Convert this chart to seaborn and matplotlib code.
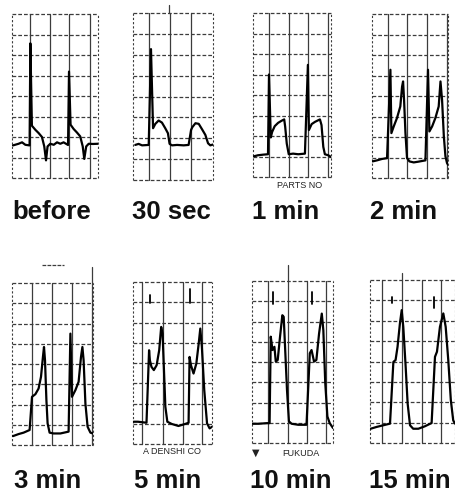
import matplotlib
matplotlib.use("Agg")
import matplotlib.pyplot as plt
from matplotlib import font_manager
import pandas as pd
import seaborn as sns

# ---------------- data (time and amplitude in grid divisions) ----------------
labels = ["before", "30 sec", "1 min", "2 min", "3 min", "5 min", "10 min", "15 min"]

before_t = [0.05, 0.34, 0.52, 0.69, 0.91, 0.95, 1.03, 1.21, 1.38, 1.55, 1.67, 1.76, 1.84, 1.98,
            2.16, 2.33, 2.50, 2.67, 2.90, 2.95, 3.03, 3.19, 3.36, 3.53, 3.66, 3.74, 3.84, 3.97,
            4.19, 4.45]
before_v = [1.59, 1.67, 1.74, 1.62, 1.59, 6.57, 2.55, 2.35, 2.19, 2.00, 1.54, 0.86, 1.54, 1.67,
            1.62, 1.74, 1.67, 1.74, 1.61, 5.19, 2.60, 2.39, 2.22, 2.03, 1.54, 0.93, 1.54, 1.67,
            1.66, 1.67]

sec30_t = [0.11, 0.27, 0.44, 0.76, 0.87, 0.97, 1.08, 1.24, 1.40, 1.56, 1.69, 1.77, 1.89, 2.13,
           2.45, 2.69, 2.81, 2.87, 3.02, 3.18, 3.34, 3.50, 3.63, 3.74, 3.87]
sec30_v = [1.68, 1.73, 1.66, 1.68, 6.27, 2.48, 2.69, 2.85, 2.75, 2.48, 2.24, 1.73, 1.66, 1.68,
           1.66, 1.68, 2.40, 2.53, 2.72, 2.69, 2.43, 2.16, 1.76, 1.66, 1.70]

min1_t = [0.05, 0.25, 0.51, 0.76, 0.81, 0.90, 0.97, 1.10, 1.27, 1.44, 1.58, 1.63, 1.71, 1.81,
          2.03, 2.29, 2.63, 2.78, 2.83, 2.97, 3.14, 3.39, 3.47, 3.56, 3.64, 3.81, 3.95]
min1_v = [1.01, 1.06, 1.09, 1.11, 5.00, 1.93, 2.20, 2.48, 2.64, 2.74, 2.81, 2.45, 1.63, 1.11,
          1.14, 1.11, 1.14, 5.47, 2.29, 2.58, 2.69, 2.81, 2.53, 1.47, 1.11, 1.06, 0.98]

min2_t = [0.03, 0.25, 0.51, 0.76, 0.93, 0.98, 1.10, 1.26, 1.43, 1.52, 1.57, 1.62, 1.69, 1.77,
          1.89, 2.11, 2.36, 2.70, 2.83, 2.90, 3.04, 3.20, 3.37, 3.46, 3.54, 3.63, 3.71, 3.79,
          3.84]
min2_v = [0.81, 0.86, 0.93, 0.97, 5.28, 2.19, 2.52, 2.92, 3.49, 4.46, 4.71, 3.81, 2.19, 0.97,
          0.81, 0.76, 0.80, 0.86, 5.28, 2.27, 2.52, 2.92, 3.49, 4.71, 3.81, 2.03, 1.06, 0.73,
          0.65]

min3_t = [0.05, 0.33, 0.58, 0.88, 1.00, 1.17, 1.33, 1.45, 1.55, 1.60, 1.65, 1.72, 1.78, 1.88,
          2.08, 2.42, 2.83, 2.92, 3.00, 3.17, 3.33, 3.45, 3.52, 3.58, 3.67, 3.78, 3.92, 4.05]
min3_v = [0.44, 0.54, 0.61, 0.74, 2.38, 2.51, 2.79, 3.37, 4.38, 4.84, 4.19, 2.22, 1.07, 0.61,
          0.57, 0.57, 0.66, 5.50, 2.38, 2.71, 3.12, 4.35, 4.84, 4.19, 2.05, 0.90, 0.61, 0.57]

min5_t = [0.03, 0.25, 0.68, 0.81, 0.85, 0.93, 1.05, 1.19, 1.32, 1.42, 1.49, 1.56, 1.63, 1.73,
          1.95, 2.29, 2.63, 2.80, 2.85, 2.92, 3.05, 3.19, 3.31, 3.39, 3.47, 3.59, 3.73, 3.86,
          3.98]
min5_v = [1.10, 1.10, 1.05, 4.63, 4.14, 3.81, 3.65, 3.89, 4.63, 5.78, 5.45, 3.65, 1.84, 1.10,
          0.99, 0.89, 0.99, 1.05, 4.30, 3.89, 3.48, 3.97, 4.96, 5.70, 4.79, 2.66, 1.02, 0.77,
          0.85]

min10_t = [0.03, 0.34, 0.77, 0.91, 0.97, 1.06, 1.16, 1.23, 1.33, 1.45, 1.57, 1.64, 1.71, 1.81,
           1.91, 2.05, 2.39, 2.82, 2.99, 3.08, 3.21, 3.33, 3.47, 3.61, 3.69, 3.79, 3.90, 4.02,
           4.19]
min10_v = [0.95, 0.95, 0.98, 0.98, 5.25, 4.59, 4.75, 4.02, 4.10, 5.25, 6.31, 6.23, 4.75, 2.62,
           1.07, 0.95, 0.90, 0.90, 4.43, 4.59, 4.02, 4.10, 5.41, 6.39, 5.57, 2.95, 1.31, 0.98,
           0.74]

min15_t = [0.03, 0.34, 0.67, 1.01, 1.18, 1.29, 1.39, 1.51, 1.60, 1.68, 1.80, 1.90, 2.02, 2.18,
           2.44, 2.77, 3.11, 3.28, 3.38, 3.53, 3.70, 3.82, 3.95, 4.08, 4.20, 4.29]
min15_v = [0.70, 0.79, 0.87, 0.95, 3.98, 4.07, 4.72, 5.87, 6.52, 5.70, 3.74, 1.93, 0.87, 0.70,
           0.70, 0.82, 0.98, 4.23, 4.48, 5.70, 6.36, 5.70, 4.07, 2.10, 1.11, 0.95]

# short pacing-artifact marks per panel: (time, low, high)
marks_5min = [(0.85, 6.95, 7.35), (2.85, 6.95, 7.65)]
marks_10min = [(1.11, 6.85, 7.45), (3.11, 6.85, 7.45)]
marks_15min = [(1.09, 6.85, 7.18), (3.24, 6.64, 7.18)]

imprints = ["PARTS NO", "A DENSHI CO", "FUKUDA"]

traces = [(before_t, before_v), (sec30_t, sec30_v), (min1_t, min1_v), (min2_t, min2_v),
          (min3_t, min3_v), (min5_t, min5_v), (min10_t, min10_v), (min15_t, min15_v)]
marks = [[], [], [], [], [], marks_5min, marks_10min, marks_15min]

# ---------------- layout (pixels) ----------------
W, H = 455, 496
boxes = [(12, 14, 86, 164), (133, 13, 80, 167), (253, 13, 78, 164), (372, 14, 76, 164),
         (12, 283, 81, 162), (133, 282, 79, 162), (252, 281, 81, 162), (370, 280, 85, 163)]
xmaxs = [4.45, 3.87, 3.95, 3.84, 4.05, 3.98, 4.19, 4.29]
gridx = [[0.95, 1.95, 2.97, 4.02], [0.79, 1.81, 2.81], [0.81, 1.81, 2.80, 3.81],
         [0.79, 1.77, 2.78, 3.79], [1.0, 2.0, 3.0, 4.0], [0.47, 1.49, 2.51, 3.47],
         [0.85, 1.88, 2.87, 3.85], [0.59, 1.60, 2.61, 3.58]]
# grid lines that poke out above the top edge: (panel, x, top)
overhang = [(1, 1.76, 8.4), (4, 4.0, 8.78), (6, 1.85, 8.77), (7, 1.60, 8.33)]
label_pos = [(52, 212), (171, 212), (286, 212), (404, 212),
             (48, 481), (168, 481), (291, 481), (410, 481)]

sns.set_theme(style="white")


def has_font(name):
    try:
        font_manager.findfont(name, fallback_to_default=False)
        return True
    except Exception:
        return False


narrow = has_font("Liberation Sans Narrow")
plt.rcParams["font.family"] = ["Liberation Sans", "DejaVu Sans"]
label_family = ["Liberation Sans Narrow", "Liberation Sans"] if narrow else ["Liberation Sans"]
label_size = 22 if narrow else 18.5

fig = plt.figure(figsize=(W / 100, H / 100), dpi=100)
fig.patch.set_facecolor("white")

grid_col = "#3c3c3c"
for i, (t, v) in enumerate(traces):
    x0, y0, w, h = boxes[i]
    ax = fig.add_axes([x0 / W, 1 - (y0 + h) / H, w / W, h / H])
    ax.set_xlim(0, xmaxs[i])
    ax.set_ylim(0, 8)
    ax.axis("off")
    for gy in range(9):
        ax.axhline(gy, color=grid_col, lw=0.9, ls=(0, (3, 1.6)), clip_on=False, zorder=1)
    for edge in (0, xmaxs[i]):
        ax.axvline(edge, color=grid_col, lw=0.8, ls=(0, (2, 1.8)), clip_on=False, zorder=1)
    for gx in gridx[i]:
        ax.axvline(gx, color=grid_col, lw=0.9, clip_on=False, zorder=1)
    for (p, gx, top) in overhang:
        if p == i:
            ax.plot([gx, gx], [8, top], color=grid_col, lw=0.9, clip_on=False)
    if i == 4:
        ax.plot([1.5, 2.58], [8.9, 8.9], color=grid_col, lw=0.9, ls=(0, (3, 1)), clip_on=False)
    for (mt, lo, hi) in marks[i]:
        ax.plot([mt, mt], [lo, hi], color="black", lw=1.3, zorder=3)
    df = pd.DataFrame({"t": t, "v": v})
    sns.lineplot(data=df, x="t", y="v", sort=False, estimator=None, color="black",
                 lw=1.6, ax=ax, zorder=4)
    cx, cy = label_pos[i]
    fig.text(cx / W, 1 - cy / H, labels[i], ha="center", va="center", fontsize=label_size,
             fontweight="bold", family=label_family, color="#111111")

small = dict(fontsize=6.5, color="#222222", va="center")
fig.text(300 / W, 1 - 185 / H, imprints[0], ha="center", **small)
fig.text(172 / W, 1 - 452 / H, imprints[1], ha="center", **small)
fig.text(256 / W, 1 - 453 / H, "\u25BC", ha="center", fontsize=7, color="#222222",
         va="center", family=["DejaVu Sans"])
fig.text(301 / W, 1 - 453 / H, imprints[2], ha="center", **small)

fig.savefig("out.png", dpi=100, facecolor="white")
